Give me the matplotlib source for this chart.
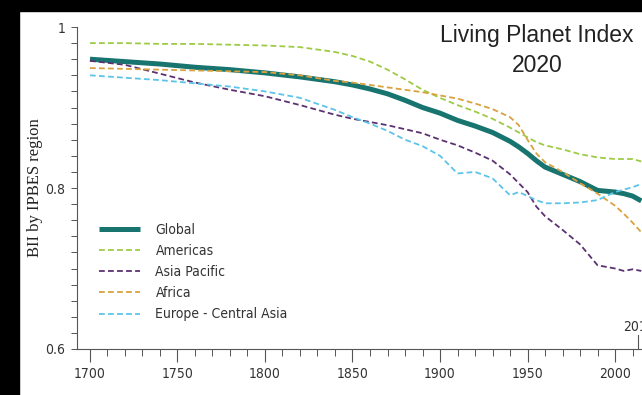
"""
Biodiversity Intactness Index by IPBES region, 1700-2015
"""

import numpy as np
import matplotlib
matplotlib.use('Agg')
import matplotlib.pyplot as plt
from matplotlib import font_manager
from matplotlib.patches import Rectangle

## Values sampled along the common year grid
years = [1700, 1720, 1740, 1760, 1780, 1800, 1820, 1840, 1850, 1860, 1870,
         1880, 1890, 1900, 1910, 1920, 1930, 1940, 1945, 1950, 1955, 1960,
         1970, 1980, 1990, 2000, 2005, 2010, 2015]

global_bii = [.960, .957, .954, .950, .947, .943, .938, .932, .928, .923, .917,
              .909, .900, .893, .884, .877, .869, .858, .851, .843, .834, .826,
              .817, .808, .797, .795, .793, .790, .784]
americas = [.980, .980, .979, .979, .978, .977, .975, .969, .964, .957, .947,
            .935, .922, .912, .903, .895, .886, .875, .869, .863, .857, .853,
            .848, .842, .838, .836, .836, .836, .833]
asia_pacific = [.958, .953, .942, .931, .922, .914, .903, .891, .886, .882, .878,
                .873, .868, .860, .853, .844, .834, .817, .806, .795, .777, .765,
                .748, .730, .704, .700, .697, .699, .697]
africa = [.949, .948, .947, .946, .945, .944, .940, .933, .931, .928, .925,
          .922, .919, .915, .911, .905, .898, .888, .878, .860, .843, .832,
          .820, .806, .793, .778, .768, .757, .745]
europe_ca = [.940, .937, .934, .930, .926, .920, .912, .897, .888, .880, .871,
             .860, .852, .840, .818, .820, .812, .791, .795, .790, .785, .781,
             .781, .782, .785, .795, .798, .801, .805]

regions = ['Americas', 'Asia Pacific', 'Africa', 'Europe - Central Asia']
region_values = [americas, asia_pacific, africa, europe_ca]
region_colors = ['#9dcb45', '#5c3171', '#d9a23f', '#5cc4e8']

x_ticks = [1700, 1750, 1800, 1850, 1900, 1950, 2000]
y_ticks = [0.6, 0.8, 1.0]
y_tick_labels = ['0.6', '0.8', '1']
last_year = 2014

## Pick a narrow sans face for the small labels if one is installed
installed = {f.name for f in font_manager.fontManager.ttflist}
narrow_stretch = {}
for f in font_manager.fontManager.ttflist:
    if f.name == 'DejaVu Sans' and 'Condensed' in f.fname:
        narrow_stretch['DejaVu Sans'] = 'condensed'
if 'Liberation Sans Narrow' in installed:
    narrow = font_manager.FontProperties(family='Liberation Sans Narrow',
                                         size=10.5)
elif 'DejaVu Sans' in narrow_stretch:
    narrow = font_manager.FontProperties(family='DejaVu Sans',
                                         stretch='condensed', size=10)
else:
    narrow = font_manager.FontProperties(family='Liberation Sans', size=10)

fig = plt.figure(figsize=(6.42, 3.95), dpi=100)
fig.patch.set_facecolor('white')
ax = fig.add_axes([77 / 642, 46 / 395, 565 / 642, 322 / 395])

ax.plot(years, global_bii, color='#17746f', lw=3.6, solid_capstyle='butt',
        label='Global', zorder=3)
for name, vals, col in zip(regions, region_values, region_colors):
    ax.plot(years, vals, color=col, lw=1.3, dashes=(3.2, 1.8), label=name,
            zorder=4)

ax.set_xlim(1692.6, 2015.4)
ax.set_ylim(0.6, 1.0)

for side in ['top', 'right']:
    ax.spines[side].set_visible(False)
for side in ['left', 'bottom']:
    ax.spines[side].set_color('#555555')
    ax.spines[side].set_linewidth(0.8)

ax.set_xticks(x_ticks)
ax.set_xticks(np.arange(1700, 2011, 10), minor=True)
ax.set_yticks(y_ticks)
ax.set_yticklabels(y_tick_labels)
ax.set_yticks(np.arange(0.6, 1.001, 0.02), minor=True)
ax.tick_params(axis='x', which='major', length=9.5, width=0.8,
               color='#555555', pad=3.5, labelcolor='#333333')
ax.tick_params(axis='x', which='minor', length=5, width=0.7, color='#555555')
ax.tick_params(axis='y', which='both', length=4.3, width=0.7,
               color='#555555', pad=4, labelcolor='#333333')
for lab in ax.get_xticklabels() + ax.get_yticklabels():
    lab.set_fontproperties(narrow)

ax.set_ylabel('BII by IPBES region', family='Liberation Serif', fontsize=12,
              color='#222222')
ax.yaxis.set_label_coords(-34 / 565, 0.5)

## Marker for the final year on the time axis
ax.plot([2013.4, 2013.4], [0.6, 0.617], color='#555555', lw=0.8,
        clip_on=False)
ax.text(2013.4, 0.619, str(last_year), ha='center', va='bottom',
        fontproperties=narrow, color='#333333')

leg = ax.legend(loc='upper left', bbox_to_anchor=(9 / 565, 139 / 322),
                frameon=False, handlelength=3.0, handletextpad=1.1,
                labelspacing=0.52, prop=narrow)
for t in leg.get_texts():
    t.set_color('#333333')

fig.text(537 / 642, 1 - 42 / 395, 'Living Planet Index', ha='center',
         va='baseline', family='Liberation Sans', fontsize=16.5,
         color='#222222')
fig.text(537 / 642, 1 - 72 / 395, '2020', ha='center', va='baseline',
         family='Liberation Sans', fontsize=16.5, color='#222222')

## Dark frame along the left and top edges
fig.patches.append(Rectangle((0, 0), 19 / 642, 1, transform=fig.transFigure,
                             color='black', zorder=10))
fig.patches.append(Rectangle((0, 1 - 11 / 395), 1, 11 / 395,
                             transform=fig.transFigure, color='black',
                             zorder=10))

fig.savefig('out.png', dpi=100)
